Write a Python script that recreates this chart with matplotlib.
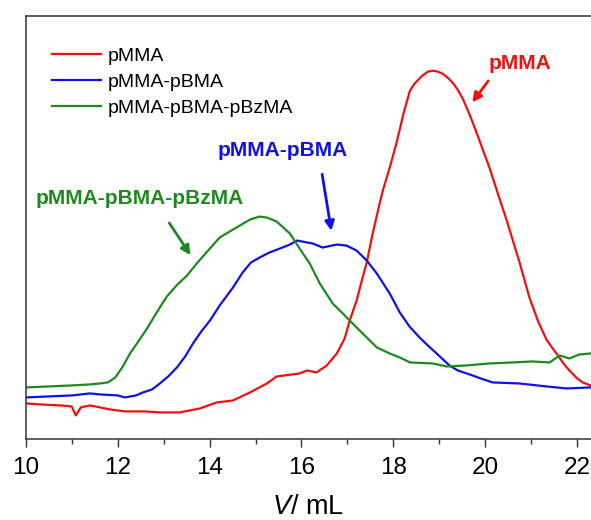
import matplotlib
matplotlib.use("Agg")
import matplotlib.pyplot as plt
from matplotlib.ticker import MultipleLocator

plt.rcParams['font.family'] = ['Liberation Sans', 'DejaVu Sans']
plt.rcParams['mathtext.fontset'] = 'custom'
plt.rcParams['mathtext.rm'] = 'Liberation Sans'
plt.rcParams['mathtext.it'] = 'Liberation Sans:italic'

# elution volume (mL) and detector signal (arb. units)
pmma_v = [10.0, 10.31, 10.75, 11.0, 11.09, 11.2, 11.4, 11.83, 12.16, 12.59, 12.92, 13.35,
          13.79, 14.16, 14.51, 14.88, 15.25, 15.46, 15.96, 16.12, 16.33, 16.55, 16.77, 16.94,
          17.05, 17.2, 17.33, 17.42, 17.55, 17.7, 17.77, 17.92, 18.07, 18.22, 18.36, 18.46,
          18.63, 18.75, 18.86, 18.97, 19.07, 19.18, 19.29, 19.4, 19.51, 19.66, 19.81, 20.09,
          20.28, 20.46, 20.62, 20.74, 20.96, 21.15, 21.33, 21.45, 21.55, 21.7, 21.83, 22.0,
          22.12, 22.29]
pmma_i = [36, 35, 34, 33, 24, 32, 34, 30, 28, 28, 27, 27,
          31, 37, 39, 47, 56, 63, 66, 69, 67, 74, 86, 101,
          119, 139, 162, 177, 206, 236, 249, 272, 297, 326, 349, 356,
          364, 368, 369, 368, 366, 362, 357, 350, 341, 325, 307, 272,
          245, 220, 196, 178, 142, 118, 100, 92, 86, 76, 69, 61,
          57, 54]

pbma_v = [10.0, 10.5, 11.0, 11.4, 11.62, 12.0, 12.16, 12.4, 12.55, 12.75, 12.92, 13.1,
          13.29, 13.47, 13.64, 13.82, 14.01, 14.22, 14.51, 14.72, 14.9, 15.09, 15.3, 15.53,
          15.75, 15.9, 16.25, 16.46, 16.77, 16.98, 17.2, 17.42, 17.64, 17.92, 18.14, 18.35,
          18.57, 18.75, 18.94, 19.22, 19.4, 19.66, 19.9, 20.16, 20.74, 21.33, 21.77, 22.29]
pbma_i = [42, 43, 44, 46, 45, 44, 42, 44, 47, 50, 56, 63,
          72, 83, 96, 108, 119, 134, 152, 167, 177, 182, 187, 191,
          195, 199, 196, 192, 195, 194, 189, 179, 166, 146, 127, 113,
          102, 94, 86, 74, 69, 65, 61, 57, 56, 53, 51, 52]

pbzma_v = [10.0, 10.5, 11.0, 11.4, 11.62, 11.79, 11.95, 12.1, 12.27, 12.45, 12.64, 12.85,
           13.07, 13.3, 13.51, 13.72, 13.95, 14.22, 14.51, 14.88, 15.09, 15.25, 15.46, 15.75,
           15.96, 16.18, 16.4, 16.68, 16.9, 17.2, 17.42, 17.64, 17.92, 18.14, 18.36, 18.85,
           19.16, 19.59, 20.09, 20.59, 21.03, 21.4, 21.62, 21.83, 22.05, 22.29]
pbzma_i = [52, 53, 54, 55, 56, 57, 62, 72, 86, 98, 111, 127,
           143, 155, 164, 176, 188, 202, 210, 220, 223, 222, 218, 206,
           191, 176, 156, 136, 126, 112, 102, 92, 86, 82, 77, 76,
           73, 74, 76, 77, 78, 77, 84, 81, 85, 86]

red = '#f01010'
blue = '#1010e8'
green = '#1e8a1e'

fig = plt.figure(figsize=(5.91, 5.20), dpi=100)
ax = fig.add_axes([0.0435, 0.155, 0.9565, 0.814])

ax.plot(pmma_v, pmma_i, color=red, lw=1.6, label='pMMA')
ax.plot(pbma_v, pbma_i, color=blue, lw=1.6, label='pMMA-pBMA')
ax.plot(pbzma_v, pbzma_i, color=green, lw=1.6, label='pMMA-pBMA-pBzMA')

ax.set_xlim(10, 22.3)
ax.set_ylim(0, 423.6)
ax.xaxis.set_major_locator(MultipleLocator(2))
ax.xaxis.set_minor_locator(MultipleLocator(1))
ax.tick_params(axis='x', which='major', direction='out', length=5.8, width=1, pad=7,
               labelsize=17.5, color='#333333')
ax.tick_params(axis='x', which='minor', direction='out', length=3.6, width=1, color='#333333')
ax.set_yticks([])
ax.spines['right'].set_visible(False)
for s in ['left', 'top', 'bottom']:
    ax.spines[s].set_color('#333333')
    ax.spines[s].set_linewidth(1.1)

ax.set_xlabel(r'$V$/ mL', fontsize=19.5, labelpad=10.5)

ax.legend(loc='upper left', bbox_to_anchor=(0.0465, 0.926), frameon=False, fontsize=14,
          handlelength=2.5, handletextpad=0.35, labelspacing=0.43, borderpad=0,
          borderaxespad=0)

# peak labels with arrows
ax.text(20.75, 376, 'pMMA', color=red, fontsize=15, fontweight='bold', ha='center', va='center')
ax.annotate('', xy=(19.68, 335), xytext=(20.10, 361),
            arrowprops=dict(arrowstyle='-|>', color=red, lw=2, mutation_scale=14))
ax.text(15.60, 289, 'pMMA-pBMA', color=blue, fontsize=15, fontweight='bold', ha='center', va='center')
ax.annotate('', xy=(16.66, 206), xytext=(16.44, 268),
            arrowprops=dict(arrowstyle='-|>', color=blue, lw=2, mutation_scale=14))
ax.text(12.48, 241, 'pMMA-pBMA-pBzMA', color=green, fontsize=15, fontweight='bold', ha='center', va='center')
ax.annotate('', xy=(13.62, 182), xytext=(13.09, 219),
            arrowprops=dict(arrowstyle='-|>', color=green, lw=2, mutation_scale=14))

fig.savefig('out.png', dpi=100)
